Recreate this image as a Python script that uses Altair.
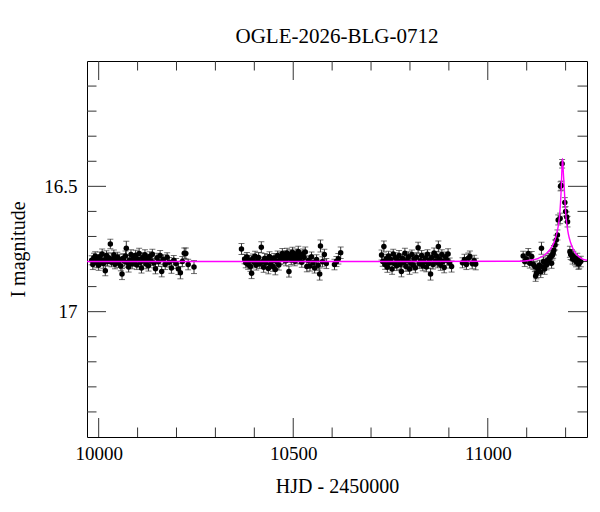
import altair as alt
import pandas as pd

# ---- photometry (HJD-2450000, I mag, error) ----
season1 = [
    (9982, 16.795, 0.018), (9985, 16.812, 0.020), (9988, 16.786, 0.019), (9991, 16.779, 0.018),
    (9994, 16.804, 0.021), (9997, 16.790, 0.018), (10000, 16.815, 0.020), (10003, 16.781, 0.019),
    (10006, 16.797, 0.018), (10009, 16.770, 0.020), (10012, 16.808, 0.019), (10015, 16.793, 0.018),
    (10017, 16.837, 0.020), (10020, 16.776, 0.019), (10023, 16.800, 0.018), (10026, 16.785, 0.020),
    (10030, 16.730, 0.019), (10033, 16.803, 0.018), (10036, 16.789, 0.020), (10039, 16.773, 0.019),
    (10042, 16.811, 0.018), (10045, 16.796, 0.021), (10048, 16.782, 0.019), (10051, 16.806, 0.018),
    (10054, 16.791, 0.020), (10057, 16.818, 0.019), (10060, 16.850, 0.022), (10063, 16.787, 0.018),
    (10066, 16.799, 0.019), (10069, 16.778, 0.020), (10071, 16.747, 0.028), (10074, 16.805, 0.019),
    (10077, 16.822, 0.020), (10080, 16.794, 0.018), (10083, 16.772, 0.019), (10086, 16.809, 0.020),
    (10089, 16.786, 0.018), (10092, 16.800, 0.019), (10095, 16.775, 0.020), (10098, 16.814, 0.018),
    (10101, 16.791, 0.019), (10104, 16.768, 0.021), (10107, 16.803, 0.018), (10110, 16.826, 0.020),
    (10113, 16.784, 0.019), (10116, 16.797, 0.018), (10119, 16.773, 0.020), (10122, 16.810, 0.019),
    (10125, 16.789, 0.018), (10128, 16.817, 0.021), (10131, 16.780, 0.019), (10134, 16.798, 0.018),
    (10138, 16.771, 0.020), (10142, 16.806, 0.019), (10146, 16.829, 0.020), (10150, 16.785, 0.018),
    (10154, 16.801, 0.019), (10158, 16.776, 0.020), (10162, 16.840, 0.021), (10166, 16.792, 0.019),
    (10171, 16.812, 0.020), (10176, 16.783, 0.018), (10181, 16.803, 0.019), (10187, 16.826, 0.021),
    (10193, 16.795, 0.019), (10199, 16.808, 0.020), (10205, 16.830, 0.022), (10210, 16.845, 0.024),
    (10215, 16.800, 0.020), (10220, 16.767, 0.021), (10224, 16.768, 0.022), (10230, 16.812, 0.021),
    (10245, 16.822, 0.026),
]
season2 = [
    (10367, 16.750, 0.022), (10375, 16.790, 0.019), (10378, 16.805, 0.020), (10381, 16.782, 0.018),
    (10384, 16.812, 0.019), (10387, 16.796, 0.020), (10390, 16.820, 0.019), (10393, 16.847, 0.021),
    (10396, 16.788, 0.018), (10399, 16.803, 0.019), (10402, 16.779, 0.020), (10405, 16.815, 0.019),
    (10408, 16.798, 0.018), (10411, 16.784, 0.020), (10414, 16.809, 0.019), (10418, 16.743, 0.022),
    (10421, 16.801, 0.018), (10424, 16.823, 0.020), (10427, 16.787, 0.019), (10430, 16.806, 0.018),
    (10433, 16.792, 0.020), (10436, 16.828, 0.021), (10439, 16.780, 0.019), (10442, 16.811, 0.018),
    (10445, 16.797, 0.020), (10448, 16.820, 0.019), (10451, 16.786, 0.018), (10454, 16.832, 0.021),
    (10457, 16.800, 0.019), (10460, 16.776, 0.018), (10463, 16.814, 0.020), (10466, 16.793, 0.019),
    (10469, 16.781, 0.018), (10472, 16.768, 0.020), (10475, 16.790, 0.019), (10478, 16.775, 0.018),
    (10481, 16.797, 0.020), (10484, 16.766, 0.019), (10487, 16.785, 0.018), (10489, 16.840, 0.022),
    (10492, 16.772, 0.019), (10495, 16.794, 0.018), (10498, 16.763, 0.020), (10501, 16.781, 0.019),
    (10504, 16.799, 0.018), (10507, 16.770, 0.020), (10510, 16.788, 0.019), (10513, 16.760, 0.021),
    (10516, 16.792, 0.018), (10519, 16.776, 0.019), (10522, 16.803, 0.020), (10525, 16.769, 0.019),
    (10528, 16.784, 0.018), (10531, 16.762, 0.020), (10535, 16.820, 0.021), (10539, 16.796, 0.019),
    (10543, 16.818, 0.020), (10547, 16.781, 0.019), (10551, 16.805, 0.018), (10555, 16.826, 0.020),
    (10560, 16.792, 0.019), (10564, 16.815, 0.020), (10568, 16.850, 0.024), (10570, 16.738, 0.024),
    (10575, 16.801, 0.020), (10580, 16.772, 0.021), (10585, 16.808, 0.020), (10606, 16.812, 0.021),
    (10611, 16.800, 0.020), (10616, 16.789, 0.021), (10622, 16.765, 0.023),
]
season3 = [
    (10727, 16.774, 0.020), (10730, 16.800, 0.019), (10733, 16.740, 0.022), (10736, 16.812, 0.019),
    (10739, 16.789, 0.018), (10742, 16.823, 0.020), (10745, 16.778, 0.019), (10748, 16.805, 0.018),
    (10751, 16.792, 0.020), (10754, 16.830, 0.021), (10757, 16.770, 0.019), (10760, 16.808, 0.018),
    (10763, 16.785, 0.020), (10766, 16.817, 0.019), (10769, 16.796, 0.018), (10772, 16.776, 0.020),
    (10775, 16.812, 0.019), (10778, 16.840, 0.021), (10781, 16.788, 0.018), (10784, 16.803, 0.019),
    (10787, 16.767, 0.020), (10790, 16.820, 0.019), (10793, 16.795, 0.018), (10796, 16.781, 0.020),
    (10799, 16.830, 0.021), (10802, 16.806, 0.019), (10805, 16.772, 0.018), (10808, 16.814, 0.020),
    (10811, 16.790, 0.019), (10814, 16.825, 0.020), (10817, 16.783, 0.018), (10821, 16.745, 0.022),
    (10824, 16.809, 0.019), (10827, 16.797, 0.018), (10830, 16.776, 0.020), (10833, 16.818, 0.019),
    (10836, 16.802, 0.018), (10839, 16.786, 0.020), (10842, 16.822, 0.019), (10845, 16.771, 0.018),
    (10848, 16.808, 0.020), (10850, 16.793, 0.019), (10853, 16.850, 0.024), (10856, 16.784, 0.019),
    (10859, 16.812, 0.018), (10862, 16.766, 0.020), (10865, 16.799, 0.019), (10868, 16.778, 0.018),
    (10871, 16.805, 0.020), (10873, 16.740, 0.022), (10876, 16.790, 0.019), (10879, 16.815, 0.020),
    (10882, 16.772, 0.019), (10885, 16.800, 0.018), (10888, 16.824, 0.021), (10891, 16.781, 0.019),
    (10895, 16.795, 0.020), (10898, 16.770, 0.021), (10902, 16.806, 0.020), (10907, 16.820, 0.022),
    (10935, 16.805, 0.020), (10940, 16.792, 0.021), (10945, 16.812, 0.020), (10950, 16.787, 0.021),
    (10954, 16.780, 0.022), (10960, 16.808, 0.021), (10965, 16.797, 0.022), (10969, 16.810, 0.023),
]
season4 = [
    (11091, 16.778, 0.019), (11095, 16.800, 0.020), (11099, 16.790, 0.019), (11104, 16.768, 0.020),
    (11108, 16.807, 0.019), (11113, 16.780, 0.020), (11117, 16.812, 0.019), (11121, 16.820, 0.020),
    (11123, 16.858, 0.021), (11125, 16.847, 0.022), (11128, 16.826, 0.020), (11130, 16.834, 0.021),
    (11133, 16.815, 0.020), (11136, 16.842, 0.022), (11138, 16.747, 0.024), (11141, 16.822, 0.020),
    (11143, 16.800, 0.019), (11146, 16.830, 0.021), (11149, 16.806, 0.020), (11151, 16.814, 0.019),
    (11154, 16.795, 0.020), (11156, 16.794, 0.019), (11158, 16.788, 0.020), (11162, 16.780, 0.019),
    (11164, 16.807, 0.020), (11166, 16.775, 0.019), (11168, 16.767, 0.020), (11170, 16.755, 0.019),
    (11173, 16.734, 0.020), (11176, 16.714, 0.019), (11179, 16.694, 0.020), (11181, 16.634, 0.020),
    (11186, 16.628, 0.021), (11187, 16.500, 0.018), (11189, 16.497, 0.018), (11191, 16.410, 0.017),
    (11198, 16.564, 0.019), (11200, 16.600, 0.019), (11203, 16.622, 0.020), (11205, 16.641, 0.021),
    (11211, 16.761, 0.022), (11213, 16.772, 0.020), (11216, 16.774, 0.021), (11218, 16.790, 0.020),
    (11220, 16.780, 0.021), (11224, 16.794, 0.020), (11227, 16.800, 0.021), (11230, 16.787, 0.020),
    (11233, 16.810, 0.021), (11235, 16.807, 0.022), (11239, 16.800, 0.021),
]

# ---- model curve ----
model_t = [9970, 10300, 10700, 11080, 11110, 11130, 11145, 11160, 11170, 11177, 11181, 11184, 11187, 11189,
           11190, 11191, 11192, 11193, 11194, 11196, 11198, 11201, 11204, 11207, 11213, 11220,
           11230, 11241, 11255]
model_m = [16.800, 16.800, 16.800, 16.799, 16.795, 16.787, 16.775, 16.752, 16.725, 16.690, 16.660, 16.625, 16.565, 16.500,
           16.455, 16.415, 16.390, 16.405, 16.440, 16.490, 16.550, 16.620, 16.660, 16.690, 16.725, 16.752,
           16.775, 16.788, 16.795]

# ---- axis ticks ----
x_major = [10000, 10500, 11000]
x_minor = [10100, 10200, 10300, 10400, 10600, 10700, 10800, 10900, 11100, 11200]
y_major = [16.5, 17.0]
y_minor = [16.1, 16.2, 16.3, 16.4, 16.6, 16.7, 16.8, 16.9, 17.1, 17.2, 17.3, 17.4]

X_DOMAIN = [9970, 11255]
Y_DOMAIN = [16.0, 17.5]
W, H = 500, 376
FONT = "Liberation Serif"
MAJ, MIN = 19, 9.5
TICK_COLOR = "#333333"

rows = season1 + season2 + season3 + season4
df = pd.DataFrame(rows, columns=["hjd", "mag", "err"])
model_df = pd.DataFrame({"t": model_t, "m": model_m})

xs = alt.Scale(domain=X_DOMAIN, nice=False, zero=False)
ys = alt.Scale(domain=Y_DOMAIN, nice=False, zero=False, reverse=True)

x_axis = alt.Axis(
    values=x_major, format="d", title="HJD - 2450000",
    labelFont=FONT, labelFontSize=19, labelColor="black", labelBaseline="alphabetic",
    labelPadding=22, labelFlush=False, labelOverlap=False,
    titleFont=FONT, titleFontSize=20, titleFontWeight="normal", titleColor="black",
    titleBaseline="alphabetic", titleY=55,
    ticks=False, tickSize=0, domain=False, grid=False)
y_axis = alt.Axis(
    values=y_major, title="I magnitude",
    labelExpr="datum.value % 1 == 0 ? format(datum.value, 'd') : format(datum.value, '.1f')",
    labelFont=FONT, labelFontSize=19, labelColor="black", labelBaseline="middle",
    labelPadding=10, labelFlush=False, labelOverlap=False,
    titleFont=FONT, titleFontSize=20, titleFontWeight="normal", titleColor="black",
    titleAngle=270, titleBaseline="alphabetic", titleAlign="center", titleX=-63, titleY=H / 2,
    ticks=False, tickSize=0, domain=False, grid=False)


def X(field):
    return alt.X(field, scale=xs, axis=x_axis, title="HJD - 2450000")


def Y(field):
    return alt.Y(field, scale=ys, axis=y_axis, title="I magnitude")


base = alt.Chart(df).transform_calculate(lo="datum.mag - datum.err", hi="datum.mag + datum.err")

err_rules = base.mark_rule(color=TICK_COLOR, strokeWidth=1).encode(
    x=X("hjd:Q"), y=Y("lo:Q"), y2="hi:Q")
cap_lo = base.mark_tick(color=TICK_COLOR, orient="horizontal", size=6, thickness=1).encode(
    x=X("hjd:Q"), y=Y("lo:Q"))
cap_hi = base.mark_tick(color=TICK_COLOR, orient="horizontal", size=6, thickness=1).encode(
    x=X("hjd:Q"), y=Y("hi:Q"))
points = alt.Chart(df).mark_point(filled=True, shape="circle", size=30, color="black", opacity=1).encode(
    x=X("hjd:Q"), y=Y("mag:Q"))
model = alt.Chart(model_df).mark_line(color="#ff00ff", strokeWidth=1.4, opacity=1,
                                      interpolate="monotone").encode(
    x=X("t:Q"), y=Y("m:Q"))


def xticks(vals, length):
    d = pd.DataFrame({"v": vals})
    bottom = alt.Chart(d).mark_rule(color=TICK_COLOR, strokeWidth=1).encode(
        x=X("v:Q"), y=alt.value(H), y2=alt.value(H - length))
    top = alt.Chart(d).mark_rule(color=TICK_COLOR, strokeWidth=1).encode(
        x=X("v:Q"), y=alt.value(0), y2=alt.value(length))
    return [bottom, top]


def yticks(vals, length):
    d = pd.DataFrame({"v": vals})
    left = alt.Chart(d).mark_rule(color=TICK_COLOR, strokeWidth=1).encode(
        y=Y("v:Q"), x=alt.value(0), x2=alt.value(length))
    right = alt.Chart(d).mark_rule(color=TICK_COLOR, strokeWidth=1).encode(
        y=Y("v:Q"), x=alt.value(W), x2=alt.value(W - length))
    return [left, right]


tick_layers = xticks(x_major, MAJ) + xticks(x_minor, MIN) + yticks(y_major, MAJ) + yticks(y_minor, MIN)

chart = alt.layer(
    *tick_layers, err_rules, cap_lo, cap_hi, points, model
).properties(
    width=W, height=H,
    title=alt.TitleParams(text="OGLE-2026-BLG-0712", font=FONT, fontSize=21, fontWeight="normal",
                          color="black", anchor="middle", baseline="alphabetic", offset=19, dy=22),
    padding={"left": 79, "top": 53, "right": 5, "bottom": 67},
    autosize=alt.AutoSizeParams(type="none"),
).configure_view(
    stroke="black", strokeWidth=1
)

chart.save("out.html", embed_options={"renderer": "svg", "actions": False})
